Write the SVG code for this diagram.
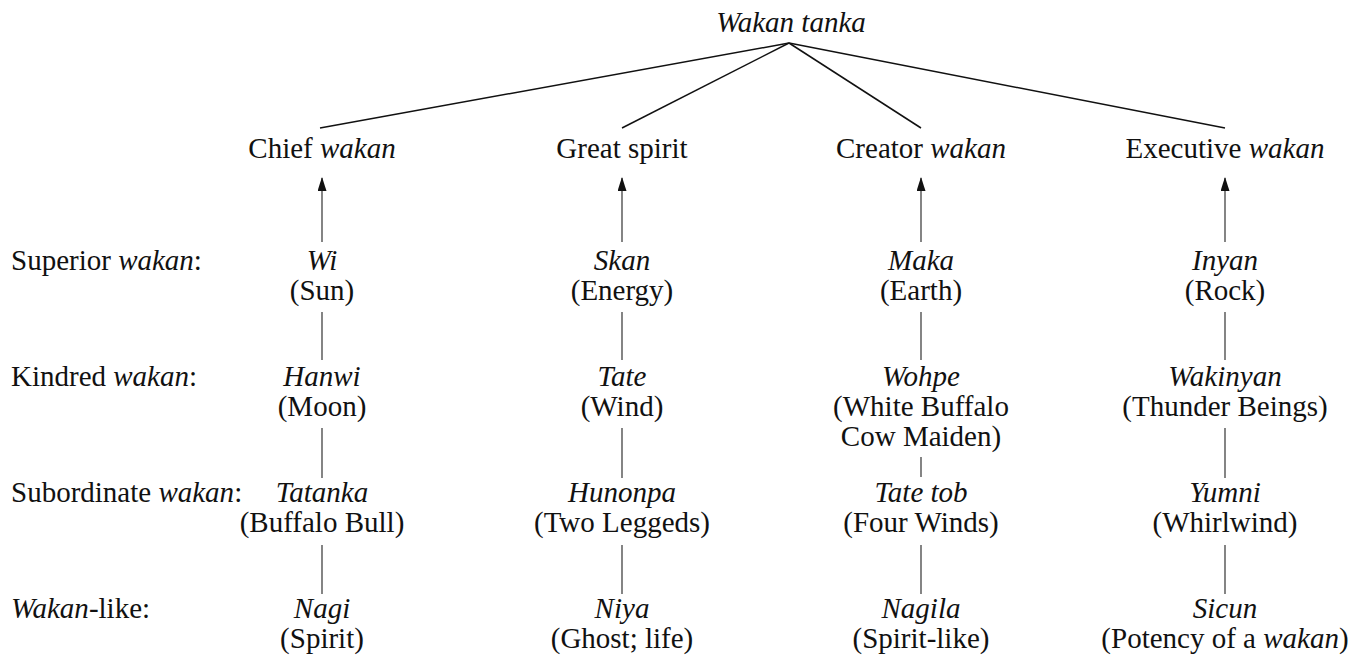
<svg xmlns="http://www.w3.org/2000/svg" width="1368" height="660" viewBox="0 0 1368 660">
<style>
text{font-family:"Liberation Serif","Times New Roman",serif;font-size:29px;fill:#111}
.c{text-anchor:middle}
.i{font-style:italic}
.top{stroke:#111;stroke-width:1.5;fill:none}
.v{stroke:#666;stroke-width:1.6;fill:none}
.a{stroke:#666;stroke-width:1.6;fill:none;marker-end:url(#ah)}
</style>
<defs>
<marker id="ah" viewBox="0 0 14 9" refX="13" refY="4.5" markerWidth="14" markerHeight="9" markerUnits="userSpaceOnUse" orient="auto">
<path d="M0,0 L14,4.5 L0,9 Z" fill="#111"/>
</marker>
</defs>
<rect width="1368" height="660" fill="#fff"/>
<g id="connectors">
<line class="top" x1="789" y1="43" x2="320" y2="128"/>
<line class="top" x1="789" y1="43" x2="622" y2="128"/>
<line class="top" x1="789" y1="43" x2="921" y2="128"/>
<line class="top" x1="789" y1="43" x2="1225" y2="128"/>
<line class="a" x1="322" y1="242" x2="322" y2="178"/>
<line class="a" x1="622" y1="242" x2="622" y2="178"/>
<line class="a" x1="921" y1="242" x2="921" y2="178"/>
<line class="a" x1="1225" y1="242" x2="1225" y2="178"/>
<line class="v" x1="322" y1="312" x2="322" y2="360"/>
<line class="v" x1="622" y1="312" x2="622" y2="360"/>
<line class="v" x1="921" y1="312" x2="921" y2="360"/>
<line class="v" x1="1225" y1="312" x2="1225" y2="360"/>
<line class="v" x1="322" y1="428" x2="322" y2="478"/>
<line class="v" x1="622" y1="428" x2="622" y2="478"/>
<line class="v" x1="921" y1="457" x2="921" y2="477"/>
<line class="v" x1="1225" y1="428" x2="1225" y2="478"/>
<line class="v" x1="322" y1="545" x2="322" y2="594"/>
<line class="v" x1="622" y1="545" x2="622" y2="594"/>
<line class="v" x1="921" y1="545" x2="921" y2="594"/>
<line class="v" x1="1225" y1="545" x2="1225" y2="594"/>
</g>
<g id="row-labels">
<text x="11" y="270">Superior <tspan class="i">wakan</tspan>:</text>
<text x="11" y="386">Kindred <tspan class="i">wakan</tspan>:</text>
<text x="11" y="502">Subordinate <tspan class="i">wakan</tspan>:</text>
<text x="11" y="618"><tspan class="i">Wakan</tspan>-like:</text>
</g>
<g id="wakan-tanka"><text class="c i" x="791" y="32">Wakan tanka</text></g>
<g id="chief-wakan"><text class="c" x="322" y="158">Chief <tspan class="i">wakan</tspan></text></g>
<g id="great-spirit"><text class="c" x="622" y="158">Great spirit</text></g>
<g id="creator-wakan"><text class="c" x="921" y="158">Creator <tspan class="i">wakan</tspan></text></g>
<g id="executive-wakan"><text class="c" x="1225" y="158">Executive <tspan class="i">wakan</tspan></text></g>
<g id="wi"><text class="c i" x="322" y="270">Wi</text><text class="c" x="322" y="300">(Sun)</text></g>
<g id="skan"><text class="c i" x="622" y="270">Skan</text><text class="c" x="622" y="300">(Energy)</text></g>
<g id="maka"><text class="c i" x="921" y="270">Maka</text><text class="c" x="921" y="300">(Earth)</text></g>
<g id="inyan"><text class="c i" x="1225" y="270">Inyan</text><text class="c" x="1225" y="300">(Rock)</text></g>
<g id="hanwi"><text class="c i" x="322" y="386">Hanwi</text><text class="c" x="322" y="416">(Moon)</text></g>
<g id="tate"><text class="c i" x="622" y="386">Tate</text><text class="c" x="622" y="416">(Wind)</text></g>
<g id="wohpe"><text class="c i" x="921" y="386">Wohpe</text><text class="c" x="921" y="416">(White Buffalo</text><text class="c" x="921" y="446">Cow Maiden)</text></g>
<g id="wakinyan"><text class="c i" x="1225" y="386">Wakinyan</text><text class="c" x="1225" y="416">(Thunder Beings)</text></g>
<g id="tatanka"><text class="c i" x="322" y="502">Tatanka</text><text class="c" x="322" y="532">(Buffalo Bull)</text></g>
<g id="hunonpa"><text class="c i" x="622" y="502">Hunonpa</text><text class="c" x="622" y="532">(Two Leggeds)</text></g>
<g id="tate-tob"><text class="c i" x="921" y="502">Tate tob</text><text class="c" x="921" y="532">(Four Winds)</text></g>
<g id="yumni"><text class="c i" x="1225" y="502">Yumni</text><text class="c" x="1225" y="532">(Whirlwind)</text></g>
<g id="nagi"><text class="c i" x="322" y="618">Nagi</text><text class="c" x="322" y="648">(Spirit)</text></g>
<g id="niya"><text class="c i" x="622" y="618">Niya</text><text class="c" x="622" y="648">(Ghost; life)</text></g>
<g id="nagila"><text class="c i" x="921" y="618">Nagila</text><text class="c" x="921" y="648">(Spirit-like)</text></g>
<g id="sicun"><text class="c i" x="1225" y="618">Sicun</text><text class="c" x="1225" y="648">(Potency of a <tspan class="i">wakan</tspan>)</text></g>
</svg>
